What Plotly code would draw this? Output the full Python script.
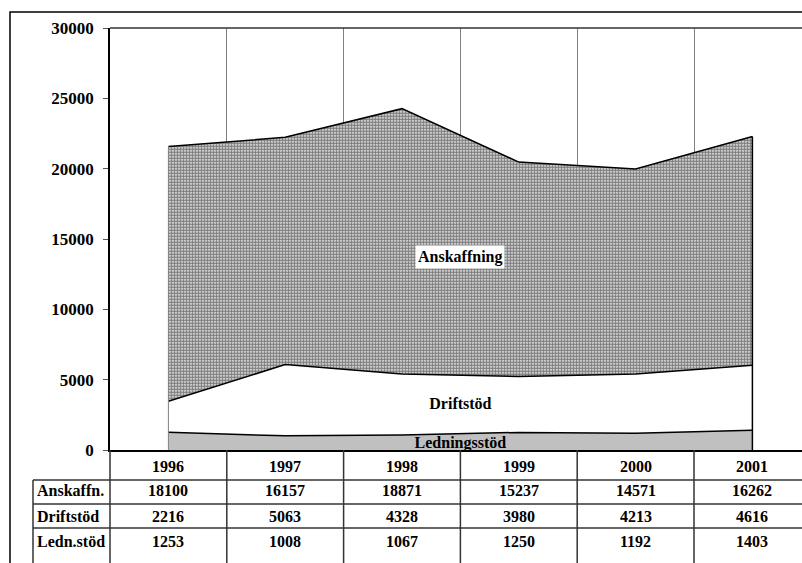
import plotly.graph_objects as go

# Annual spending by category (stacked): Ledningsstöd at the bottom,
# Driftstöd in the middle, Anskaffning on top
years = ["1996", "1997", "1998", "1999", "2000", "2001"]
anskaffning = [18100, 16157, 18871, 15237, 14571, 16262]
driftstod = [2216, 5063, 4328, 3980, 4213, 4616]
ledningsstod = [1253, 1008, 1067, 1250, 1192, 1403]
row_labels = ["Anskaffn.", "Driftstöd", "Ledn.stöd"]
y_ticks = [0, 5000, 10000, 15000, 20000, 25000, 30000]

W, H = 802, 563
ML, MT = 110, 28
SLOT = 116.8                      # pixels per year column
x_pos = list(range(len(years)))
x_max = -0.5 + (W - ML) / SLOT

FONT = "Liberation Serif"


def py(px):
    """Pixel row (from top) -> paper y."""
    return (H - px) / (H - MT)


def px_x(px):
    """Pixel column (from left) -> paper x."""
    return (px - ML) / (W - ML)


AXIS_BOTTOM = py(450)
totals = [a + d + l for a, d, l in zip(anskaffning, driftstod, ledningsstod)]

fig = go.Figure()

fig.add_trace(go.Scatter(
    x=x_pos, y=ledningsstod, stackgroup="s", mode="lines",
    line=dict(color="black", width=1.5), fillcolor="#c0c0c0",
    hoverinfo="skip", showlegend=False))
fig.add_trace(go.Scatter(
    x=x_pos, y=driftstod, stackgroup="s", mode="lines",
    line=dict(color="black", width=1.5), fillcolor="white",
    hoverinfo="skip", showlegend=False))
fig.add_trace(go.Scatter(
    x=x_pos, y=anskaffning, stackgroup="s", mode="lines",
    line=dict(color="black", width=1.5), fillcolor="white",
    fillpattern=dict(shape=".", fgcolor="black", bgcolor="white",
                     size=3, solidity=0.75),
    hoverinfo="skip", showlegend=False))

# vertical edges closing the stacked area at both ends
fig.add_trace(go.Scatter(
    x=[x_pos[0], x_pos[0]], y=[0, totals[0]], mode="lines",
    line=dict(color="#808080", width=1), hoverinfo="skip", showlegend=False))
fig.add_trace(go.Scatter(
    x=[x_pos[-1], x_pos[-1]], y=[0, totals[-1]], mode="lines",
    line=dict(color="black", width=1.5), hoverinfo="skip", showlegend=False))

# series labels inside the areas
label_font = dict(family=FONT, size=16, color="black", weight=700)
fig.add_trace(go.Scatter(
    x=[2.5], y=[3200], mode="text", text=["Driftstöd"],
    textfont=label_font, hoverinfo="skip", showlegend=False))
fig.add_trace(go.Scatter(
    x=[2.5], y=[450], mode="text", text=["Ledningsstöd"], cliponaxis=True,
    textfont=label_font, hoverinfo="skip", showlegend=False))

annotations = [dict(
    x=2.5, y=13750, xref="x", yref="y", text="Anskaffning", showarrow=False,
    bgcolor="white", borderpad=2, font=label_font)]

# data table under the chart
cell_font = dict(family=FONT, size=16, color="black", weight=700)
for i, yr in enumerate(years):
    annotations.append(dict(x=i, y=py(466), xref="x", yref="paper", text=yr,
                            xanchor="center", yanchor="middle",
                            showarrow=False, font=cell_font))
rows = [anskaffning, driftstod, ledningsstod]
row_centers = [491, 516, 541]
for label, vals, yc in zip(row_labels, rows, row_centers):
    annotations.append(dict(x=px_x(35), y=py(yc), xref="paper", yref="paper",
                            text=label, xanchor="left", yanchor="middle",
                            showarrow=False, font=cell_font))
    for i, v in enumerate(vals):
        annotations.append(dict(x=i, y=py(yc), xref="x", yref="paper",
                                text=str(v), xanchor="center",
                                yanchor="middle", showarrow=False,
                                font=cell_font))

grid = dict(color="#333333", width=1.5)
shapes = []
# outer frame
shapes.append(dict(type="rect", xref="paper", yref="paper",
                   x0=px_x(10), x1=1.2, y0=-0.2, y1=py(12),
                   line=dict(color="black", width=1.5), fillcolor="rgba(0,0,0,0)"))
# top edge of the plot area
shapes.append(dict(type="line", xref="paper", yref="paper", x0=0, x1=1.05,
                   y0=1, y1=1, line=dict(color="#333333", width=1.5)))
# table horizontal rules
for yl in [480, 504, 528]:
    shapes.append(dict(type="line", xref="paper", yref="paper",
                       x0=px_x(33), x1=1.05, y0=py(yl), y1=py(yl), line=grid))
# table vertical rules
shapes.append(dict(type="line", xref="paper", yref="paper", x0=0, x1=0,
                   y0=-0.05, y1=AXIS_BOTTOM, line=grid))
shapes.append(dict(type="line", xref="paper", yref="paper",
                   x0=px_x(33), x1=px_x(33), y0=-0.05, y1=py(480), line=grid))
for b in [i + 0.5 for i in x_pos[:-1]]:
    shapes.append(dict(type="line", xref="x", yref="paper", x0=b, x1=b,
                       y0=-0.05, y1=AXIS_BOTTOM, line=grid))

fig.update_layout(
    width=W, height=H,
    margin=dict(l=ML, r=0, t=MT, b=0, autoexpand=False),
    paper_bgcolor="white", plot_bgcolor="white",
    showlegend=False,
    annotations=annotations,
    shapes=shapes,
    xaxis=dict(range=[-0.5, x_max], tickvals=[i + 0.5 for i in x_pos[:-1]],
               showticklabels=False, ticks="", showgrid=True,
               gridcolor="#808080", gridwidth=1, showline=True,
               linecolor="black", linewidth=2, zeroline=False,
               fixedrange=True),
    yaxis=dict(domain=[AXIS_BOTTOM, 1], range=[0, 30000], tickvals=y_ticks,
               ticktext=[str(v) for v in y_ticks],
               ticks="outside", ticklen=5, tickcolor="#555555", tickwidth=1,
               showgrid=False, showline=True, linecolor="black", linewidth=1.5,
               zeroline=False, ticklabelstandoff=6,
               tickfont=dict(family=FONT, size=17, color="black", weight=700),
               fixedrange=True),
)

fig.write_html("out.html")
